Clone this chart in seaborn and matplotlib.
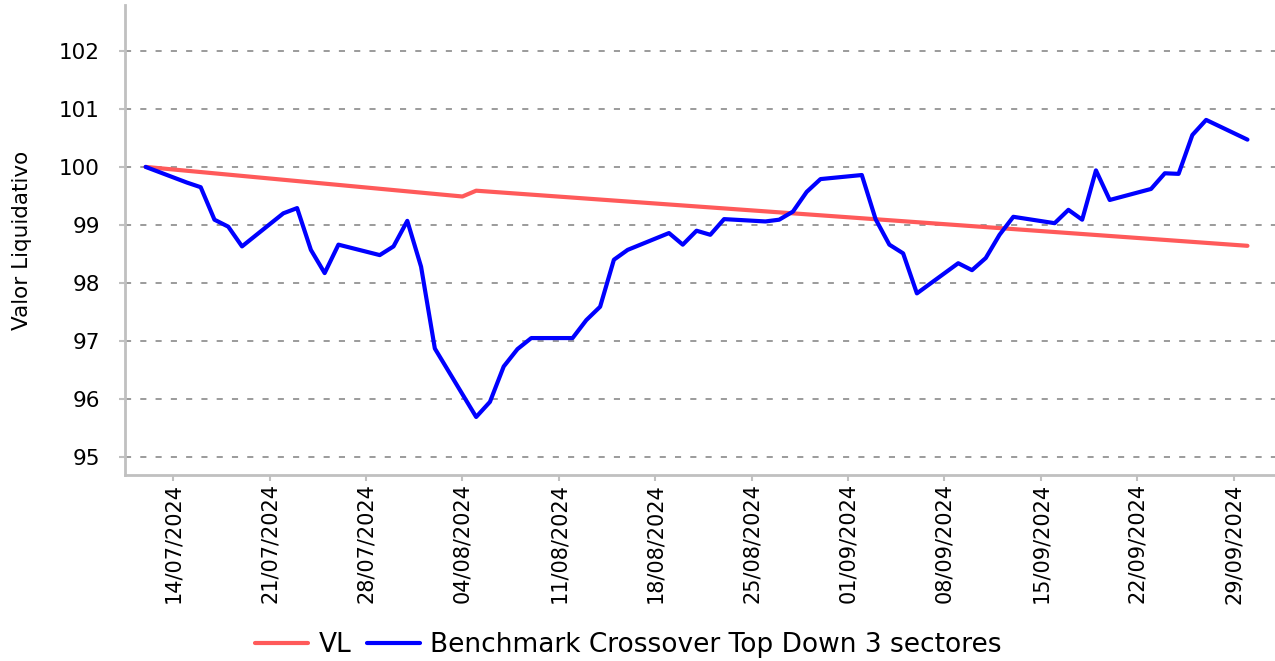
import pandas as pd
import matplotlib.pyplot as plt
import matplotlib.dates as mdates
import seaborn as sns

sns.set_theme(style="white")
plt.rcParams["font.family"] = ["DejaVu Sans"]
plt.rcParams["text.color"] = "black"
plt.rcParams["axes.labelcolor"] = "black"
plt.rcParams["xtick.color"] = "black"
plt.rcParams["ytick.color"] = "black"

# Benchmark series (business days)
bench_dates = [
    "2024-07-12",
    "2024-07-15", "2024-07-16", "2024-07-17", "2024-07-18", "2024-07-19",
    "2024-07-22", "2024-07-23", "2024-07-24", "2024-07-25", "2024-07-26",
    "2024-07-29", "2024-07-30", "2024-07-31", "2024-08-01", "2024-08-02",
    "2024-08-05", "2024-08-06", "2024-08-07", "2024-08-08", "2024-08-09",
    "2024-08-12", "2024-08-13", "2024-08-14", "2024-08-15", "2024-08-16",
    "2024-08-19", "2024-08-20", "2024-08-21", "2024-08-22", "2024-08-23",
    "2024-08-26", "2024-08-27", "2024-08-28", "2024-08-29", "2024-08-30",
    "2024-09-02", "2024-09-03", "2024-09-04", "2024-09-05", "2024-09-06",
    "2024-09-09", "2024-09-10", "2024-09-11", "2024-09-12", "2024-09-13",
    "2024-09-16", "2024-09-17", "2024-09-18", "2024-09-19", "2024-09-20",
    "2024-09-23", "2024-09-24", "2024-09-25", "2024-09-26", "2024-09-27",
    "2024-09-30",
]
bench_values = [
    100.00,
    99.73, 99.65, 99.09, 98.97, 98.63,
    99.20, 99.29, 98.57, 98.17, 98.66,
    98.48, 98.63, 99.07, 98.28, 96.87,
    95.69, 95.95, 96.56, 96.86, 97.05,
    97.05, 97.36, 97.59, 98.40, 98.57,
    98.86, 98.66, 98.90, 98.83, 99.10,
    99.06, 99.09, 99.23, 99.57, 99.79,
    99.86, 99.10, 98.66, 98.51, 97.82,
    98.34, 98.22, 98.43, 98.83, 99.14,
    99.03, 99.26, 99.09, 99.94, 99.43,
    99.62, 99.89, 99.88, 100.55, 100.81,
    100.47,
]

# VL series
vl_dates = ["2024-07-12", "2024-08-04", "2024-08-05", "2024-09-30"]
vl_values = [100.00, 99.49, 99.59, 98.64]

labels = ["VL", "Benchmark Crossover Top Down 3 sectores"]
colors = ["#ff5a5a", "#0000ff"]

df_vl = pd.DataFrame({"Data": pd.to_datetime(vl_dates), "Valor": vl_values})
df_bench = pd.DataFrame({"Data": pd.to_datetime(bench_dates), "Valor": bench_values})

fig = plt.figure(figsize=(12.75, 6.61), dpi=100)
ax = fig.add_axes([0.098, 0.2814, 0.902, 0.711])

sns.lineplot(data=df_vl, x="Data", y="Valor", ax=ax, color=colors[0], lw=3, label=labels[0])
sns.lineplot(data=df_bench, x="Data", y="Valor", ax=ax, color=colors[1], lw=3, label=labels[1])

ax.set_xlim(pd.Timestamp("2024-07-10 12:00"), pd.Timestamp("2024-10-02"))
ax.set_ylim(94.69, 102.79)
ax.set_yticks([95, 96, 97, 98, 99, 100, 101, 102])

ax.xaxis.set_major_locator(mdates.WeekdayLocator(byweekday=mdates.SU))
ax.xaxis.set_major_formatter(mdates.DateFormatter("%d/%m/%Y"))
for lbl in ax.get_xticklabels():
    lbl.set_rotation(90)

ax.grid(axis="y", color="#808080", linestyle=(0, (4, 6)), lw=1.1)
ax.grid(axis="x", visible=False)

for side in ["top", "right"]:
    ax.spines[side].set_visible(False)
for side in ["left", "bottom"]:
    ax.spines[side].set_color("#c0c0c0")
    ax.spines[side].set_linewidth(2)

ax.tick_params(axis="x", length=4, width=1.5, color="#c0c0c0", labelcolor="black",
               labelsize=15, pad=2, bottom=True)
ax.tick_params(axis="y", length=4, width=1.5, color="#c0c0c0", labelcolor="black",
               labelsize=15.5, pad=14, left=True)

ax.set_xlabel("")
ax.set_ylabel("Valor Liquidativo", fontsize=15.5, color="black")
ax.yaxis.set_label_coords(-0.081, 0.5)

ax.get_legend().remove()
handles, _ = ax.get_legend_handles_labels()
fig.legend(handles, labels, loc="center", bbox_to_anchor=(0.493, 0.024), ncol=2,
           frameon=False, fontsize=19, handlelength=2.0, handletextpad=0.4,
           columnspacing=0.6, labelcolor="black")

fig.savefig("out.png", dpi=100)
